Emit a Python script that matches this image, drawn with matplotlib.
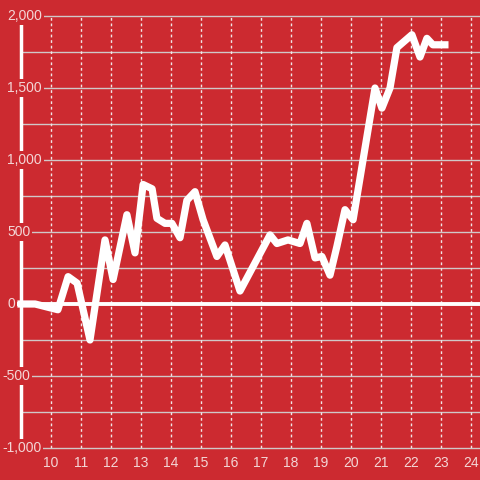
import matplotlib
matplotlib.use('Agg')
import matplotlib.pyplot as plt
import matplotlib.transforms as mtransforms

# series
xs = [9.0, 9.47, 10.23, 10.57, 10.87, 11.3, 11.8, 12.07, 12.53, 12.8, 13.07, 13.37,
      13.53, 13.8, 14.03, 14.3, 14.53, 14.8, 15.07, 15.53, 15.8, 16.3, 17.3, 17.53,
      17.9, 18.3, 18.53, 18.8, 19.03, 19.3, 19.53, 19.8, 20.07, 20.8, 21.03, 21.3,
      21.53, 22.03, 22.3, 22.53, 22.73, 23.13]
ys = [0, 0, -40, 190, 145, -250, 445, 170, 620, 355, 830, 800,
      595, 560, 560, 460, 720, 780, 585, 330, 410, 90, 480, 420,
      445, 420, 560, 320, 330, 200, 400, 655, 585, 1500, 1360, 1500,
      1780, 1870, 1715, 1845, 1800, 1800]

x_ticks = list(range(10, 25))
y_major = [-1000, -500, 0, 500, 1000, 1500, 2000]
y_minor = [-750, -250, 250, 750, 1250, 1750]

bg = '#cc2a30'
txt = '#f3d6d6'
plt.rcParams['font.family'] = ['Liberation Sans', 'DejaVu Sans']

fig = plt.figure(figsize=(4.8, 4.8), dpi=100)
fig.patch.set_facecolor(bg)
ax = fig.add_axes([21/480, 32/480, 459/480, 432/480])
ax.set_facecolor(bg)
ax.set_xlim(9, 9 + 459/30)
ax.set_ylim(-1000, 2000)

for s in ['top', 'right', 'bottom']:
    ax.spines[s].set_visible(False)
ax.spines['left'].set_color('white')
ax.spines['left'].set_linewidth(2.5)
ax.spines['left'].set_zorder(1)

# grid
for v in y_major + y_minor:
    if v == 0:
        continue
    ax.axhline(v, color='#d0c8c8', lw=1, zorder=0.5, clip_on=False)
for v in x_ticks:
    ax.axvline(v, color='#f0e6e6', lw=1, ls=(0, (2, 2)), zorder=0.6)
ax.axhline(0, xmin=-0.01, color='white', lw=2.8, zorder=1.5, clip_on=False)

ax.plot(xs, ys, color='white', lw=5.2, solid_joinstyle='round', zorder=2, clip_on=False)

ax.set_xticks(x_ticks)
ax.set_xticklabels([str(v) for v in x_ticks], color=txt, fontsize=10)
ax.tick_params(axis='x', length=0, pad=6)
ax.set_yticks([])

trans = mtransforms.blended_transform_factory(fig.transFigure, ax.transData)
for v in y_major:
    lab = f'{v:,}'
    xpx = 2 if v < 0 else 7
    ax.text(xpx/480, v, lab, transform=trans,
            ha='left', va='center', color=txt, fontsize=10, zorder=3,
            bbox=dict(boxstyle='square,pad=0.15', fc=bg, ec='none'))

fig.savefig('out.png', dpi=100, facecolor=bg)
